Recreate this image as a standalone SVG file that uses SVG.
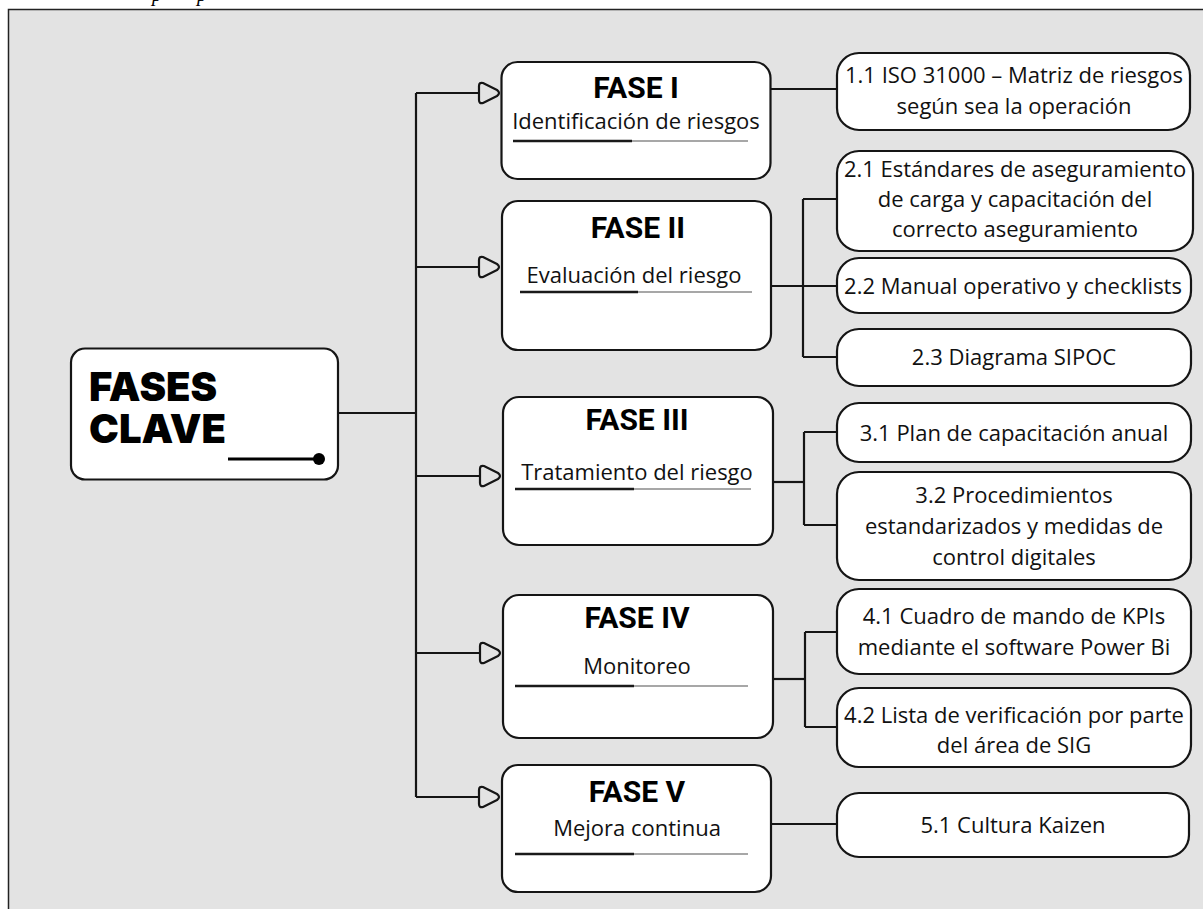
<svg xmlns="http://www.w3.org/2000/svg" width="1203" height="909" viewBox="0 0 1203 909">
  <style>
    .frame { fill: #e3e3e3; stroke: #222; stroke-width: 1.5; }
    .box { fill: #ffffff; stroke: #151515; stroke-width: 2.2; }
    .wire { fill: none; stroke: #151515; stroke-width: 2.2; }
    .head { fill: #e3e3e3; stroke: #151515; stroke-width: 2.2; stroke-linejoin: round; }
    .title { font-family: Roboto, "Liberation Sans", sans-serif; font-weight: 700; font-size: 30px; fill: #000; text-anchor: middle; }
    .big { font-family: Inter, Roboto, "Liberation Sans", sans-serif; font-weight: 900; font-size: 40px; fill: #000; }
    .sub { font-family: "Open Sans", "Noto Sans", "Liberation Sans", sans-serif; font-size: 22px; fill: #111; text-anchor: middle; }
    .ul-dark { stroke: #1a1a1a; stroke-width: 2.6; }
    .ul-light { stroke: #8a8a8a; stroke-width: 1.6; }
    .cap { font-family: "Liberation Serif", serif; font-style: italic; font-size: 20px; fill: #000; }
  </style>
  <defs>
    <!-- rounded triangular inlet head, tip at (0,0) -->
    <path id="inlet" d="M-21,-7 Q-21,-11 -17,-10 L-3,-3 Q1,0 -3,3 L-17,10 Q-21,11 -21,7 Z"/>
  </defs>

  <!-- caption line above the frame, mostly outside the page -->
  <text class="cap" x="152" y="1">p</text>
  <text class="cap" x="197" y="1">p</text>

  <!-- background panel -->
  <rect class="frame" x="8.5" y="9.5" width="1210" height="920"/>

  <!-- connectors -->
  <g id="connectors">
    <!-- trunk from the root to the phases -->
    <path class="wire" d="M338,413 H416"/>
    <path class="wire" d="M416,93 V797"/>
    <path class="wire" d="M416,93 H479"/>
    <path class="wire" d="M416,267 H479"/>
    <path class="wire" d="M416,476 H479"/>
    <path class="wire" d="M416,653 H479"/>
    <path class="wire" d="M416,797 H479"/>
    <use href="#inlet" class="head" transform="translate(500,93)"/>
    <use href="#inlet" class="head" transform="translate(500,267)"/>
    <use href="#inlet" class="head" transform="translate(501,476)"/>
    <use href="#inlet" class="head" transform="translate(501,653)"/>
    <use href="#inlet" class="head" transform="translate(500,797)"/>

    <!-- phase I -->
    <path class="wire" d="M771,89 H838"/>
    <!-- phase II -->
    <path class="wire" d="M771,286 H838"/>
    <path class="wire" d="M803,199 V357"/>
    <path class="wire" d="M803,199 H838"/>
    <path class="wire" d="M803,357 H838"/>
    <!-- phase III -->
    <path class="wire" d="M773,482 H804"/>
    <path class="wire" d="M804,432 V525"/>
    <path class="wire" d="M804,432 H838"/>
    <path class="wire" d="M804,525 H838"/>
    <!-- phase IV -->
    <path class="wire" d="M773,679 H805"/>
    <path class="wire" d="M805,632 V727"/>
    <path class="wire" d="M805,632 H838"/>
    <path class="wire" d="M805,727 H838"/>
    <!-- phase V -->
    <path class="wire" d="M771,824 H838"/>
  </g>

  <!-- root -->
  <g id="root">
    <rect class="box" x="71" y="348.5" width="267" height="131" rx="14"/>
    <text class="big" x="89" y="401">FASES</text>
    <text class="big" x="89" y="443">CLAVE</text>
    <path d="M228,459 H318" stroke="#000" stroke-width="3"/>
    <circle cx="319" cy="459" r="6" fill="#000"/>
  </g>

  <!-- phases -->
  <g id="fase-1">
    <rect class="box" x="501.5" y="62" width="269" height="117" rx="16"/>
    <text class="title" x="636" y="98">FASE I</text>
    <text class="sub" x="636" y="129">Identificación de riesgos</text>
    <path class="ul-light" d="M632,141 H748"/>
    <path class="ul-dark" d="M513,141 H632"/>
  </g>
  <g id="fase-2">
    <rect class="box" x="502" y="201" width="269" height="149" rx="16"/>
    <text class="title" x="638" y="238">FASE II</text>
    <text class="sub" x="634" y="283">Evaluación del riesgo</text>
    <path class="ul-light" d="M638,292 H752"/>
    <path class="ul-dark" d="M520,292 H638"/>
  </g>
  <g id="fase-3">
    <rect class="box" x="503" y="397" width="270" height="148" rx="16"/>
    <text class="title" x="637" y="430">FASE III</text>
    <text class="sub" x="637" y="480">Tratamiento del riesgo</text>
    <path class="ul-light" d="M634,489 H751"/>
    <path class="ul-dark" d="M515,489 H634"/>
  </g>
  <g id="fase-4">
    <rect class="box" x="503" y="595" width="270" height="143" rx="16"/>
    <text class="title" x="637" y="628">FASE IV</text>
    <text class="sub" x="637" y="674">Monitoreo</text>
    <path class="ul-light" d="M634,686 H748"/>
    <path class="ul-dark" d="M515,686 H634"/>
  </g>
  <g id="fase-5">
    <rect class="box" x="502" y="765" width="269" height="127" rx="16"/>
    <text class="title" x="637" y="802">FASE V</text>
    <text class="sub" x="637" y="836">Mejora continua</text>
    <path class="ul-light" d="M634,854 H748"/>
    <path class="ul-dark" d="M515,854 H634"/>
  </g>

  <!-- actions -->
  <g id="accion-1-1">
    <rect class="box" x="837" y="53" width="353" height="77" rx="22"/>
    <text class="sub" x="1014" y="83">1.1 ISO 31000 – Matriz de riesgos</text>
    <text class="sub" x="1014" y="114">según sea la operación</text>
  </g>
  <g id="accion-2-1">
    <rect class="box" x="837" y="151" width="356" height="100" rx="22"/>
    <text class="sub" x="1015" y="177">2.1 Estándares de aseguramiento</text>
    <text class="sub" x="1015" y="207">de carga y capacitación del</text>
    <text class="sub" x="1015" y="237">correcto aseguramiento</text>
  </g>
  <g id="accion-2-2">
    <rect class="box" x="837" y="258" width="354" height="55" rx="22"/>
    <text class="sub" x="1013" y="294">2.2 Manual operativo y checklists</text>
  </g>
  <g id="accion-2-3">
    <rect class="box" x="837" y="329" width="354" height="57" rx="22"/>
    <text class="sub" x="1014" y="365">2.3 Diagrama SIPOC</text>
  </g>
  <g id="accion-3-1">
    <rect class="box" x="837" y="403" width="354" height="59" rx="22"/>
    <text class="sub" x="1014" y="441">3.1 Plan de capacitación anual</text>
  </g>
  <g id="accion-3-2">
    <rect class="box" x="837" y="472" width="354" height="108" rx="22"/>
    <text class="sub" x="1014" y="503">3.2 Procedimientos</text>
    <text class="sub" x="1014" y="534">estandarizados y medidas de</text>
    <text class="sub" x="1014" y="565">control digitales</text>
  </g>
  <g id="accion-4-1">
    <rect class="box" x="837" y="589" width="354" height="85" rx="22"/>
    <text class="sub" x="1014" y="624">4.1 Cuadro de mando de KPIs</text>
    <text class="sub" x="1014" y="655">mediante el software Power Bi</text>
  </g>
  <g id="accion-4-2">
    <rect class="box" x="837" y="688" width="354" height="79" rx="22"/>
    <text class="sub" x="1014" y="723">4.2 Lista de verificación por parte</text>
    <text class="sub" x="1014" y="753">del área de SIG</text>
  </g>
  <g id="accion-5-1">
    <rect class="box" x="837" y="793" width="352" height="64" rx="22"/>
    <text class="sub" x="1013" y="833">5.1 Cultura Kaizen</text>
  </g>
</svg>
